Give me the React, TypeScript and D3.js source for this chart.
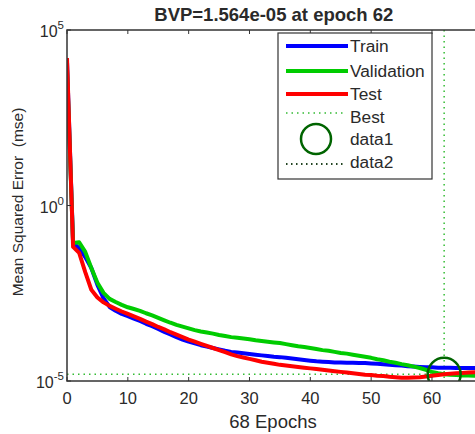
import React from "react";
import * as d3 from "d3";

// Epochs 0..68, MSE values (log10 estimates converted to mse)
const epochs: number[] = Array.from({ length: 69 }, (_, i) => i);

const trainLog: number[] = [
  4.1, -1.07, -1.21, -1.47, -1.78, -2.26, -2.64, -2.89, -3.0, -3.09,
  -3.15, -3.22, -3.29, -3.37, -3.44, -3.52, -3.6, -3.67, -3.75, -3.82,
  -3.88, -3.93, -3.98, -4.02, -4.06, -4.1, -4.14, -4.17, -4.19, -4.21,
  -4.23, -4.25, -4.27, -4.29, -4.31, -4.32, -4.34, -4.36, -4.38, -4.4,
  -4.42, -4.44, -4.45, -4.46, -4.47, -4.47, -4.48, -4.48, -4.49, -4.49,
  -4.5, -4.51, -4.52, -4.54, -4.55, -4.56, -4.58, -4.59, -4.6, -4.61,
  -4.61, -4.62, -4.62, -4.62, -4.63, -4.63, -4.63, -4.63, -4.63,
];

const validationLog: number[] = [
  3.9, -1.07, -1.05, -1.32, -1.78, -2.2, -2.49, -2.66, -2.75, -2.83,
  -2.9, -2.95, -3.0, -3.07, -3.13, -3.2, -3.27, -3.34, -3.4, -3.45,
  -3.5, -3.55, -3.59, -3.62, -3.65, -3.69, -3.72, -3.75, -3.77, -3.79,
  -3.81, -3.84, -3.86, -3.88, -3.9, -3.92, -3.95, -3.98, -4.01, -4.03,
  -4.06, -4.09, -4.12, -4.14, -4.17, -4.2, -4.22, -4.25, -4.28, -4.31,
  -4.34, -4.38, -4.41, -4.45, -4.48, -4.52, -4.55, -4.59, -4.63, -4.68,
  -4.74, -4.78, -4.806, -4.82, -4.83, -4.84, -4.84, -4.85, -4.85,
];

const testLog: number[] = [
  4.2, -1.18, -1.35, -1.9, -2.4, -2.62, -2.76, -2.86, -2.94, -3.02,
  -3.09, -3.16, -3.23, -3.31, -3.38, -3.46, -3.53, -3.61, -3.68, -3.75,
  -3.82, -3.88, -3.94, -4.0, -4.06, -4.12, -4.18, -4.24, -4.29, -4.33,
  -4.37, -4.41, -4.45, -4.48, -4.51, -4.54, -4.56, -4.58, -4.6, -4.62,
  -4.64, -4.66, -4.68, -4.7, -4.72, -4.74, -4.76, -4.78, -4.8, -4.82,
  -4.83, -4.85, -4.86, -4.88, -4.89, -4.91, -4.91, -4.9, -4.89, -4.87,
  -4.85, -4.83, -4.81, -4.79, -4.78, -4.77, -4.76, -4.75, -4.74,
];

const trainMse = trainLog.map((v) => Math.pow(10, v));
const validationMse = validationLog.map((v) => Math.pow(10, v));
const testMse = testLog.map((v) => Math.pow(10, v));

const bestEpoch = 62;
const bestValue = 1.564e-5;
const totalEpochs = 68;

const xTicks: number[] = [0, 10, 20, 30, 40, 50, 60];
const yTicks: number[] = [-5, 0, 5];

const legendItems = ["Train", "Validation", "Test", "Best", "data1", "data2"];

const COL_TRAIN = "#0000ff";
const COL_VAL = "#00cc00";
const COL_TEST = "#ff0000";
const COL_BEST = "#33bb33";
const COL_CIRCLE = "#006400";
const TEXT = "#2a2a2a";
const FONT = "'Liberation Sans', Arial, sans-serif";

export default function App() {
  const W = 475;
  const H = 434;
  const left = 67;
  const top = 30;
  const bottom = 381;
  const right = left + 68 * 6.083;

  const x = d3.scaleLinear().domain([0, totalEpochs]).range([left, right]);
  const y = d3.scaleLog().domain([1e-5, 1e5]).range([bottom, top]);

  const line = d3
    .line<number>()
    .x((_, i) => x(epochs[i]))
    .y((d) => y(d));

  const bx = x(bestEpoch);
  const by = y(bestValue);

  const lx = 278;
  const ly = 33;
  const lw = 154;
  const lh = 146;
  const rowY = [46, 71, 94, 117, 139, 162];

  return (
    <svg
      width={W}
      height={H}
      style={{ position: "absolute", left: 0, top: 0, background: "#fff" }}
      fontFamily={FONT}
    >
      <defs>
        <clipPath id="plot">
          <rect x={left} y={top} width={right - left} height={bottom - top} />
        </clipPath>
      </defs>
      <rect x={0} y={0} width={W} height={H} fill="#fff" />

      {/* title */}
      <text
        x={(left + right) / 2}
        y={21}
        textAnchor="middle"
        fontSize={18.5}
        fontWeight="bold"
        fill={TEXT}
      >
        BVP=1.564e-05 at epoch 62
      </text>

      <g clipPath="url(#plot)">
        {/* best lines */}
        <line x1={bx} x2={bx} y1={top} y2={bottom} stroke={COL_BEST} strokeWidth={1.5} strokeDasharray="1.5 4" />
        <line x1={left} x2={right} y1={by} y2={by} stroke={COL_BEST} strokeWidth={1.5} strokeDasharray="1.5 4" />
        <path d={line(trainMse) || ""} fill="none" stroke={COL_TRAIN} strokeWidth={4} strokeLinejoin="round" />
        <path d={line(validationMse) || ""} fill="none" stroke={COL_VAL} strokeWidth={4} strokeLinejoin="round" />
        <path d={line(testMse) || ""} fill="none" stroke={COL_TEST} strokeWidth={4} strokeLinejoin="round" />
        <circle cx={bx} cy={by} r={16.5} fill="none" stroke={COL_CIRCLE} strokeWidth={2.5} />
      </g>

      {/* axes box */}
      <rect x={left} y={top} width={right - left} height={bottom - top} fill="none" stroke="#333" strokeWidth={1.5} />

      {/* x ticks */}
      {xTicks.map((t) => (
        <g key={t}>
          <line x1={x(t)} x2={x(t)} y1={bottom} y2={bottom - 4} stroke="#333" />
          <line x1={x(t)} x2={x(t)} y1={top} y2={top + 4} stroke="#333" />
          <text x={x(t)} y={404} textAnchor="middle" fontSize={16.5} fill={TEXT}>
            {t}
          </text>
        </g>
      ))}

      {/* y ticks */}
      {yTicks.map((t) => (
        <g key={t}>
          <line x1={left} x2={left + 4} y1={y(Math.pow(10, t))} y2={y(Math.pow(10, t))} stroke="#333" />
          <text x={left - 3} y={y(Math.pow(10, t)) + 7} textAnchor="end" fontSize={16} fill={TEXT}>
            10
            <tspan fontSize={11.5} dy={-8}>
              {t}
            </tspan>
          </text>
        </g>
      ))}

      {/* axis labels */}
      <text x={273} y={428} textAnchor="middle" fontSize={18.5} fill={TEXT}>
        68 Epochs
      </text>
      <text
        transform={`translate(23, 202) rotate(-90)`}
        textAnchor="middle"
        fontSize={15.5}
        fill={TEXT}
        xmlSpace="preserve"
      >
        Mean Squared Error  (mse)
      </text>

      {/* legend */}
      <rect x={lx} y={ly} width={lw} height={lh} fill="#fff" stroke="#333" strokeWidth={1.2} />
      {legendItems.map((name, i) => {
        const ry = rowY[i];
        let sample: React.ReactNode = null;
        if (i < 3) {
          const c = [COL_TRAIN, COL_VAL, COL_TEST][i];
          sample = <line x1={286} x2={348} y1={ry} y2={ry} stroke={c} strokeWidth={4} />;
        } else if (i === 3) {
          sample = <line x1={286} x2={343} y1={ry - 4} y2={ry - 4} stroke={COL_BEST} strokeWidth={1.5} strokeDasharray="1.5 4" />;
        } else if (i === 4) {
          sample = <circle cx={316} cy={ry} r={15} fill="none" stroke={COL_CIRCLE} strokeWidth={2.5} />;
        } else {
          sample = <line x1={286} x2={343} y1={ry + 2} y2={ry + 2} stroke="#224422" strokeWidth={1.8} strokeDasharray="1.5 3.5" />;
        }
        return (
          <g key={name}>
            {sample}
            <text x={350} y={ry + 6} fontSize={17.3} fill={TEXT}>
              {name}
            </text>
          </g>
        );
      })}
    </svg>
  );
}
